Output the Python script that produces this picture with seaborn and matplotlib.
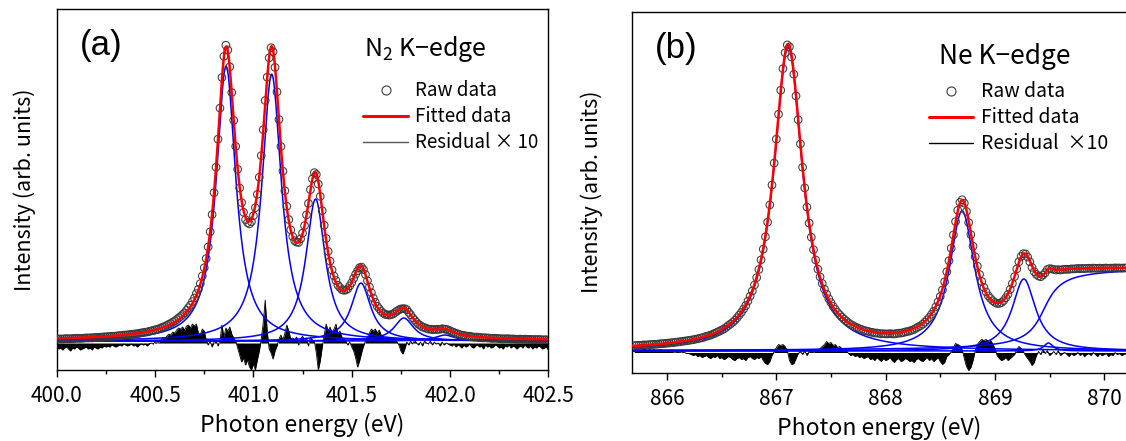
import numpy as np
import matplotlib
matplotlib.use("Agg")
import matplotlib.pyplot as plt
import seaborn as sns
from matplotlib.lines import Line2D
from matplotlib.ticker import MultipleLocator, FormatStrFormatter

# ---------------- data (arbitrary intensity units) ----------------
# Panel (a): N2 K-edge, Lorentzian components of the vibrational progression
n2_centers = [400.861, 401.093, 401.316, 401.547, 401.765, 401.973]
n2_heights = [275, 267, 142, 58, 23, 6]
n2_hwhm = [0.060, 0.060, 0.060, 0.060, 0.060, 0.060]
n2_background = 2.0
n2_energy_first, n2_energy_step = 400.00, 0.01
# residual x10, one value per measured point (400.00 ... 402.50 eV)
n2_residual_x10 = [
    -4, -6, -5, -7, -5, -4, -6, -8, -5, -6, -4, -5, -7, -6, -5, -4, -6, -5, -7, -4, -5, -6, -4, -5, -3, -4,
    -3, -4, -2, -3, -4, -3, -2, -3, -1, -2, -3, -2, -1, -3, -2, -4, -2, -1, -2, -1, -3, -1, 0, -1, 1, 0, 1,
    3, 5, 4, 7, 9, 8, 11, 10, 13, 15, 14, 16, 13, 17, 18, 15, 19, 17, 19,
    10, 8, 14, 12, 3,
    -2, 2, -4, 1, 3, -3, 2,
    18, 6, 15,
    12, 16, 9, 5, 2,
    -5, -12, -19, -15, -22, -17, -24, -27, -21, -27, -17, -8,
    4, 20, 43, 12,
    -6, -10, -16, -8, -3,
    4, 8, 3, 10, 18, 12, 4,
    5, 3, 6, -2, 4, 7, 2, 5, -3, 6, 3, 2,
    -10, -27, -18, -4,
    8, 19, 12, 16, 10, 14, 19, 9, 12, 6, 4, 2,
    -2, 1, -4,
    -8, -15, -24, -18, -10, -3,
    2, 6, 10, 14,
    12, 14, 10, 13, 8, 6,
    4, 6, 3, 5, 2, 4, 1, -2,
    -8, -11, -6,
    1, -2, 2, -1, 3, 0, -2, 1, -3, 2, 0, -1, 2, -2, 1, -1, 0, -3, 1, -2, 0, -1,
    -2, -3, -1, -4, -2, -3, -5, -2, -4, -3, -1, -4, -5, -3, -2, -4, -3, -6, -2, -4, -3, -5, -4, -2, -3,
    -5, -4, -6, -3, -4, -2, -5, -3, -4, -6, -4, -3, -5, -2, -4, -5, -3, -6, -4, -5, -3, -4, -6, -5, -4, -7,
]
n2_xlim = (400.0, 402.5)
n2_ylim = (-27, 334)

# Panel (b): Ne K-edge, Lorentzian components plus an arctan ionisation edge
ne_centers = [867.108, 868.700, 869.265, 869.490]
ne_heights = [304, 140, 72, 8]
ne_hwhm = [0.160, 0.140, 0.130, 0.050]
ne_edge_position = 869.45
ne_edge_width = 0.12
ne_edge_height = 84
ne_background = 1.5
ne_energy_first, ne_energy_step = 865.70, 0.02
# residual x10, one value per measured point (865.70 ... 870.20 eV)
ne_residual_x10 = [
    4, 3, 3, 2, 4, 3, 2, 3, 2, 3, 1, 2, 3, 2, 1, 2, 1, 2, 0, 1, 1, 0, 1, 0, -1,
    -1, -2, -3, -2, -4, -3, -5, -4, -3, -5, -6, -4, -5, -3, -6, -5, -7, -6, -4, -5,
    -7, -8, -6, -5, -7, -6, -8, -5, -4, -6, -7, -5, -6, -4, -8, -11, -12, -9, -3, 1,
    5, 8, 7, 8, 6, 2,
    -8, -12, -11, -6, -1,
    1, -2, 2, -3, 1, 2, 0, 3, 2,
    4, 6, 8, 11, 9, 10, 7, 8, 5, 6, 4, 3, 2,
    -1, -3, -2, -4, -3, -5, -4, -6, -5, -4, -7, -6, -8, -5, -7, -9, -6, -8, -7, -5, -8,
    -10, -7, -6, -9, -8, -6, -7, -9, -8, -10, -7, -6, -8, -9, -7, -5, -8, -6, -9, -7, -5,
    -9, -12, -10, -4,
    -2, 1, 5, 9, 8, 7, 3,
    -6, -14, -18, -15, -8,
    2, 8, 11, 13, 12, 13, 11, 12, 9, 4,
    -3, -6, -8, -7, -5, -8, -6, -4, -2,
    3, 6, 4, 1, -3, -6, -9, -13, -10, -3,
    1, -2, 3, -1, 2, -3, -1, 1, -2, 2, -3, -1, 0, -2, -4, -1, -3, -2, 0, -3, -1,
    -4, -2, -1, -3, 0, -2, -4, -1, -3, -2, -1, -4, -2, -3, 0, -2, -1, -3, -2, -1,
]
ne_xlim = (865.676, 870.2)
ne_ylim = (-20.2, 340.8)

# ---------------- helpers ----------------
def lorentz(e, c, h, g):
    return h / (1.0 + ((e - c) / g) ** 2)


def edge(e, e0, w, a):
    return a * (0.5 + np.arctan((e - e0) / w) / np.pi)


def grid(first, step, n):
    return np.round(first + step * np.arange(n), 4)


# ---------------- style ----------------
sns.set_theme(style="white", rc={
    "axes.edgecolor": "black", "axes.linewidth": 1.0,
    "xtick.color": "black", "ytick.color": "black",
    "text.color": "black", "axes.labelcolor": "black",
    "xtick.bottom": True, "xtick.direction": "out",
})
plt.rcParams["font.family"] = ["Noto Sans CJK JP", "DejaVu Sans"]
plt.rcParams["mathtext.default"] = "regular"

fig = plt.figure(figsize=(11.26, 4.41), dpi=100)
ax_a = fig.add_axes([0.0504, 0.161, 0.4366, 0.818])
ax_b = fig.add_axes([0.561, 0.1549, 0.4390, 0.8186])

RED = "#ff0000"
BLUE = "#0000ff"
CIRC = "#3a3a3a"


def draw_panel(ax, e_meas, res, comps_fine, fit_fine, fit_meas, e_fine, bg):
    res = np.asarray(res, float)
    ax.fill_between(e_meas, 0, res, color="black", linewidth=0, zorder=1)
    sns.lineplot(x=e_meas, y=res, ax=ax, color="black", linewidth=0.6,
                 sort=False, estimator=None, legend=False, zorder=1)
    for comp in comps_fine:
        sns.lineplot(x=e_fine, y=comp + bg, ax=ax, color=BLUE, linewidth=1.1,
                     sort=False, estimator=None, legend=False, zorder=2)
    raw = fit_meas + res / 10.0
    sns.scatterplot(x=e_meas, y=raw, ax=ax, marker="o", s=30, facecolor="none",
                    edgecolor=CIRC, linewidth=0.75, legend=False, zorder=3)
    sns.lineplot(x=e_fine, y=fit_fine, ax=ax, color=RED, linewidth=1.8,
                 sort=False, estimator=None, legend=False, zorder=4)


# ---- panel (a)
e_a = grid(n2_energy_first, n2_energy_step, len(n2_residual_x10))
ef_a = np.linspace(n2_xlim[0], n2_xlim[1], 1500)
comps_a = [lorentz(ef_a, c, h, g) for c, h, g in zip(n2_centers, n2_heights, n2_hwhm)]
fit_a = np.sum(comps_a, axis=0) + n2_background
fit_a_meas = np.sum([lorentz(e_a, c, h, g) for c, h, g in zip(n2_centers, n2_heights, n2_hwhm)],
                    axis=0) + n2_background
draw_panel(ax_a, e_a, n2_residual_x10, comps_a, fit_a, fit_a_meas, ef_a, n2_background)

# ---- panel (b)
e_b = grid(ne_energy_first, ne_energy_step, len(ne_residual_x10))
ef_b = np.linspace(ne_xlim[0], ne_xlim[1], 1500)
comps_b = [lorentz(ef_b, c, h, g) for c, h, g in zip(ne_centers, ne_heights, ne_hwhm)]
comps_b.append(edge(ef_b, ne_edge_position, ne_edge_width, ne_edge_height))
fit_b = np.sum(comps_b, axis=0) + ne_background
fit_b_meas = (np.sum([lorentz(e_b, c, h, g) for c, h, g in zip(ne_centers, ne_heights, ne_hwhm)], axis=0)
              + edge(e_b, ne_edge_position, ne_edge_width, ne_edge_height) + ne_background)
draw_panel(ax_b, e_b, ne_residual_x10, comps_b, fit_b, fit_b_meas, ef_b, ne_background)

# ---------------- axes formatting ----------------
TICK_FS = 15
LABEL_FS = 16.5
for ax in (ax_a, ax_b):
    ax.set_yticks([])
    ax.tick_params(axis="x", which="major", length=5, width=1.0, pad=6, labelsize=TICK_FS)
    ax.tick_params(axis="x", which="minor", length=2.8, width=1.0, bottom=True)
    ax.set_xlabel("Photon energy (eV)", fontsize=LABEL_FS, labelpad=4)
    for s in ax.spines.values():
        s.set_color("black")
        s.set_linewidth(1.0)

ax_a.set_xlim(*n2_xlim)
ax_a.set_ylim(*n2_ylim)
ax_a.xaxis.set_major_locator(MultipleLocator(0.5))
ax_a.xaxis.set_minor_locator(MultipleLocator(0.25))
ax_a.xaxis.set_major_formatter(FormatStrFormatter("%.1f"))
ax_a.set_ylabel("Intensity (arb. units)", fontsize=15.5, labelpad=15)

ax_b.set_xlim(*ne_xlim)
ax_b.set_ylim(*ne_ylim)
ax_b.xaxis.set_major_locator(MultipleLocator(1))
ax_b.xaxis.set_minor_locator(MultipleLocator(0.5))
ax_b.xaxis.set_major_formatter(FormatStrFormatter("%d"))
ax_b.set_ylabel("Intensity (arb. units)", fontsize=15.5, labelpad=21)
ax_b.spines["right"].set_visible(False)

# panel letters and titles
ax_a.text(0.047, 0.945, "(a)", transform=ax_a.transAxes, fontsize=25,
          family="Liberation Sans", va="top", ha="left")
ax_b.text(0.047, 0.945, "(b)", transform=ax_b.transAxes, fontsize=25,
          family="Liberation Sans", va="top", ha="left")
ax_a.text(0.625, 0.8705, "N$_2$ K\u2212edge", transform=ax_a.transAxes, fontsize=18,
          va="baseline", ha="left")
ax_b.text(0.6217, 0.855, "Ne K\u2212edge", transform=ax_b.transAxes, fontsize=19,
          va="baseline", ha="left")


def legend(ax, anchor, resid_color, resid_label, fs, hl, htp):
    handles = [
        Line2D([], [], linestyle="none", marker="o", markersize=6.5, markerfacecolor="none",
               markeredgecolor=CIRC, markeredgewidth=0.8),
        Line2D([], [], color=RED, linewidth=2.2),
        Line2D([], [], color=resid_color, linewidth=1.0),
    ]
    ax.legend(handles, ["Raw data", "Fitted data", resid_label], loc="upper left",
              bbox_to_anchor=anchor, frameon=False, fontsize=fs, handlelength=hl,
              handletextpad=htp, labelspacing=0.26, borderpad=0, borderaxespad=0)


legend(ax_a, (0.623, 0.803), "#555555", "Residual \u00d7 10", 13.5, 2.4, 0.37)
legend(ax_b, (0.601, 0.807), "black", "Residual  \u00d710", 13.9, 2.28, 0.45)

fig.savefig("out.png", dpi=100)
